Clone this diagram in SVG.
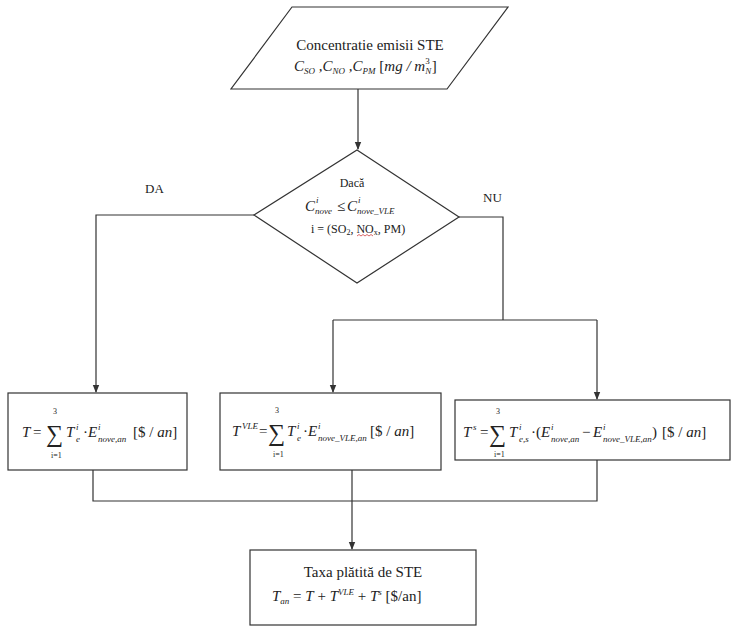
<svg xmlns="http://www.w3.org/2000/svg" width="732" height="629" viewBox="0 0 732 629" font-family="'Liberation Serif', 'DejaVu Serif', serif">
<style>
.s{fill:none;stroke:#333;stroke-width:1.2}
.n{fill:#fff;stroke:#333;stroke-width:1.2}
text{font-family:"Liberation Serif","DejaVu Serif",serif;fill:#222}
.i{font-style:italic}
.m{font-size:15px}
.sm{font-size:9px}
.lim{font-size:8px}
.d{font-size:12px}
.sig{font-size:24px}
</style>
<defs>
<marker id="a" viewBox="0 0 8 8" refX="7" refY="4" markerWidth="8" markerHeight="8" markerUnits="userSpaceOnUse" orient="auto">
<path d="M0,0.8 L8,4 L0,7.2 Z" fill="#333"/>
</marker>
</defs>
<g id="connectors">
<path class="s" d="M358,89 V149" marker-end="url(#a)"/>
<path class="s" d="M254,215 H96 V392" marker-end="url(#a)"/>
<path class="s" d="M459,217 H503 V320"/>
<path class="s" d="M333,320 H597"/>
<path class="s" d="M333,320 V392" marker-end="url(#a)"/>
<path class="s" d="M597,320 V399" marker-end="url(#a)"/>
<path class="s" d="M93,470 V501 H597 V460"/>
<path class="s" d="M352,470 V549" marker-end="url(#a)"/>
</g>
<g id="input">
<polygon class="n" points="292,7 508,7 447,89 231,89"/>
<text class="m" x="370" y="50" text-anchor="middle">Concentratie emisii STE</text>
<text class="m i" x="294" y="71">C<tspan class="sm" dy="3">SO</tspan><tspan dy="-3"> ,C</tspan><tspan class="sm" dy="3">NO</tspan><tspan dy="-3"> ,C</tspan><tspan class="sm" dy="3">PM</tspan><tspan dy="-3" font-style="normal"> [</tspan>mg / m<tspan class="sm" dy="3">N</tspan><tspan class="sm" font-style="normal" dx="-6" dy="-10">3</tspan><tspan dy="7" dx="2" font-style="normal">]</tspan></text>
</g>
<g id="decision">
<polygon class="n" points="357,150 459,217 357,283 254,215"/>
<text class="d" x="352" y="187" text-anchor="middle">Dacă</text>
<text class="m i" x="305" y="211">C</text>
<text class="sm i" x="316" y="203">i</text>
<text class="sm i" x="315" y="214">nove</text>
<text class="m" x="337" y="211">≤</text>
<text class="m i" x="347" y="211">C</text>
<text class="sm i" x="358" y="203">i</text>
<text class="sm i" x="357" y="214">nove_VLE</text>
<text class="d" x="311" y="233">i = (SO<tspan font-size="8" dy="2">2</tspan><tspan dy="-2">, NO</tspan><tspan font-size="8" dy="2">x</tspan><tspan dy="-2">, PM)</tspan></text>
<path d="M357,236 l2,-1.5 l2,1.5 l2,-1.5 l2,1.5 l2,-1.5 l2,1.5 l2,-1.5 l2,1.5" fill="none" stroke="#d04040" stroke-width="0.8"/>
</g>
<g id="labels">
<text x="145" y="193" font-size="13">DA</text>
<text x="483" y="202" font-size="13">NU</text>
</g>
<g id="box-T">
<rect class="n" x="8" y="393" width="179" height="77"/>
<text class="m i" x="22" y="437">T</text>
<text class="m" x="33" y="437">=</text>
<text class="sig" x="46" y="442">∑</text>
<text class="lim" x="53" y="414">3</text>
<text class="lim" x="51" y="458">i=1</text>
<text class="m i" x="66" y="437">T</text>
<text class="sm i" x="76" y="430">i</text>
<text class="sm i" x="76" y="442">e</text>
<text class="m" x="83" y="437">·</text>
<text class="m i" x="88" y="437">E</text>
<text class="sm i" x="98" y="430">i</text>
<text class="sm i" x="98" y="442">nove,an</text>
<text class="m" x="133" y="437">[$ / <tspan class="i">an</tspan>]</text>
</g>
<g id="box-TVLE">
<rect class="n" x="220" y="393" width="221" height="77"/>
<text class="m i" x="232" y="436">T</text>
<text class="sm i" x="242" y="429">VLE</text>
<text class="m" x="259" y="436">=</text>
<text class="sig" x="268" y="441">∑</text>
<text class="lim" x="275" y="413">3</text>
<text class="lim" x="273" y="457">i=1</text>
<text class="m i" x="287" y="436">T</text>
<text class="sm i" x="297" y="429">i</text>
<text class="sm i" x="297" y="441">e</text>
<text class="m" x="303" y="436">·</text>
<text class="m i" x="308" y="436">E</text>
<text class="sm i" x="318" y="429">i</text>
<text class="sm i" x="318" y="441">nove_VLE,an</text>
<text class="m" x="370" y="436">[$ / <tspan class="i">an</tspan>]</text>
</g>
<g id="box-Ts">
<rect class="n" x="455" y="400" width="275" height="60"/>
<text class="m i" x="463" y="437">T</text>
<text class="sm i" x="473" y="430">s</text>
<text class="m" x="480" y="437">=</text>
<text class="sig" x="489" y="442">∑</text>
<text class="lim" x="496" y="414">3</text>
<text class="lim" x="494" y="457">i=1</text>
<text class="m i" x="509" y="437">T</text>
<text class="sm i" x="519" y="430">i</text>
<text class="sm i" x="519" y="442">e,s</text>
<text class="m" x="531" y="437">·(</text>
<text class="m i" x="541" y="437">E</text>
<text class="sm i" x="551" y="430">i</text>
<text class="sm i" x="551" y="442">nove,an</text>
<text class="m" x="582" y="437">−</text>
<text class="m i" x="593" y="437">E</text>
<text class="sm i" x="603" y="430">i</text>
<text class="sm i" x="603" y="442">nove_VLE,an</text>
<text class="m" x="652" y="437">)</text>
<text class="m" x="662" y="437">[$ / <tspan class="i">an</tspan>]</text>
</g>
<g id="box-total">
<rect class="n" x="250" y="550" width="226" height="75"/>
<text class="m" x="363" y="577" text-anchor="middle">Taxa plătită de STE</text>
<text class="m" x="272" y="601"><tspan class="i">T</tspan><tspan class="sm i" dy="3">an</tspan><tspan dy="-3"> = </tspan><tspan class="i">T</tspan> + <tspan class="i">T</tspan><tspan class="sm i" dy="-6">VLE</tspan><tspan dy="6"> + </tspan><tspan class="i">T</tspan><tspan class="sm i" dy="-6">s</tspan><tspan dy="6">  [$/an]</tspan></text>
</g>
</svg>
